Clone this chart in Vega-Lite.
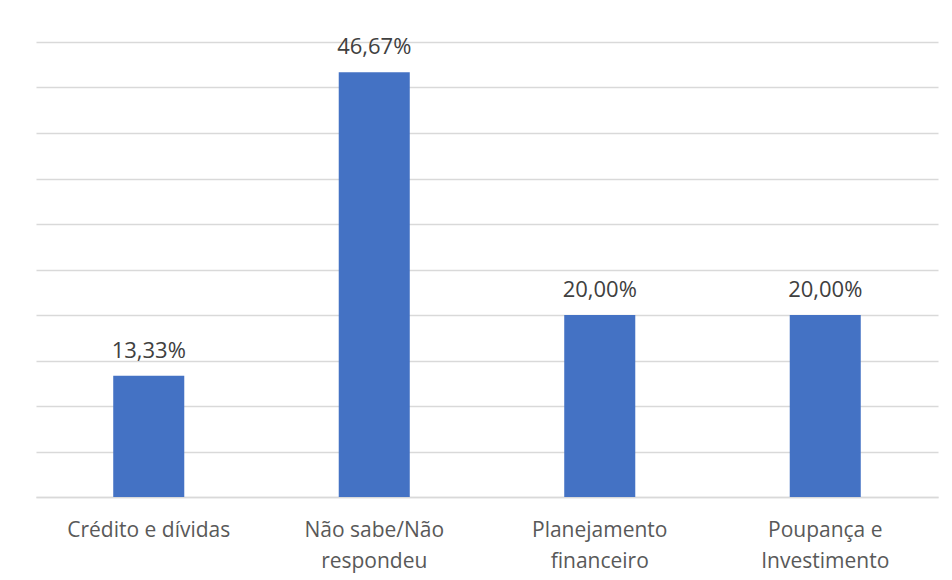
{
  "$schema": "https://vega.github.io/schema/vega-lite/v6.json",
  "width": 902,
  "height": 455,
  "autosize": {"type": "none"},
  "padding": {"left": 36, "top": 42, "right": 14, "bottom": 83},
  "background": "#ffffff",
  "config": {
    "view": {"stroke": null},
    "font": "Open Sans",
    "locale": {"number": {"decimal": ",", "thousands": ".", "grouping": [3], "currency": ["R$", ""]}}
  },
  "data": {
    "values": [
      {"categoria": "Crédito e dívidas", "valor": 0.1333},
      {"categoria": "Não sabe/Não respondeu", "valor": 0.4667},
      {"categoria": "Planejamento financeiro", "valor": 0.2},
      {"categoria": "Poupança e Investimento", "valor": 0.2}
    ]
  },
  "encoding": {
    "x": {
      "field": "categoria",
      "type": "nominal",
      "sort": null,
      "scale": {"paddingInner": 0.685, "paddingOuter": 0.3425},
      "axis": {
        "title": null,
        "labelAngle": 0,
        "labelFontSize": 21,
        "labelColor": "#595959",
        "labelPadding": 22,
        "labelLineHeight": 31,
        "labelLimit": 300,
        "ticks": false,
        "domainColor": "#d9d9d9",
        "domainWidth": 1.3,
        "labelExpr": "datum.label == 'Crédito e dívidas' ? datum.label : split(replace(replace(replace(datum.label, 'Não respondeu', 'Não|respondeu'), ' financeiro', '|financeiro'), ' Investimento', '|Investimento'), '|')"
      }
    },
    "y": {
      "field": "valor",
      "type": "quantitative",
      "scale": {"domain": [0, 0.5]},
      "axis": {
        "title": null,
        "labels": false,
        "ticks": false,
        "domain": false,
        "values": [0, 0.05, 0.1, 0.15, 0.2, 0.25, 0.3, 0.35, 0.4, 0.45, 0.5],
        "gridColor": "#d9d9d9",
        "gridWidth": 1.3
      }
    }
  },
  "layer": [
    {"mark": {"type": "bar", "color": "#4472C4"}},
    {
      "mark": {"type": "text", "baseline": "alphabetic", "dy": -18, "fontSize": 22, "color": "#404040"},
      "encoding": {"text": {"field": "valor", "type": "quantitative", "format": ".2%"}}
    }
  ]
}
